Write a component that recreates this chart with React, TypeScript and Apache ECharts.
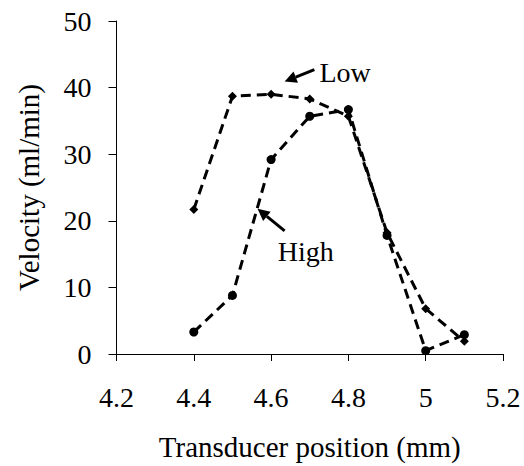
import React, { useEffect, useRef } from "react";
import * as echarts from "echarts";

const positions = [4.4, 4.5, 4.6, 4.7, 4.8, 4.9, 5.0, 5.1];
const lowValues = [21.7, 38.7, 39.0, 38.3, 35.7, 18.2, 6.8, 1.9];
const highValues = [3.3, 8.8, 29.2, 35.7, 36.7, 17.8, 0.5, 2.9];
const xTicks = [4.2, 4.4, 4.6, 4.8, 5.0, 5.2];
const yTicks = [0, 10, 20, 30, 40, 50];

// annotation anchors in data coordinates: [tail, tip, text]
const lowNote = { label: "Low", tail: [4.712, 42.7], tip: [4.635, 40.9], text: [4.725, 42.2] };
const highNote = { label: "High", tail: [4.635, 18.5], tip: [4.565, 21.8], text: [4.617, 15.4] };

const FONT = "Liberation Serif";

export default function App() {
  const ref = useRef<HTMLDivElement>(null);
  useEffect(() => {
    if (!ref.current) return;
    const chart = echarts.init(ref.current, undefined, { renderer: "svg" });
    const toPairs = (vals: number[]) => positions.map((p, i) => [p, vals[i]]);
    chart.setOption({
      animation: false,
      backgroundColor: "#fff",
      textStyle: { fontFamily: FONT },
      grid: { left: 116.5, right: 21, top: 21, bottom: 110 },
      xAxis: {
        type: "value",
        min: xTicks[0],
        max: xTicks[xTicks.length - 1],
        interval: 0.2,
        name: "Transducer position (mm)",
        nameLocation: "middle",
        nameGap: 78,
        nameTextStyle: { fontFamily: FONT, fontSize: 29, color: "#000" },
        axisLine: { lineStyle: { color: "#000", width: 1 } },
        axisTick: { show: true, inside: false, length: 7, lineStyle: { color: "#000" } },
        axisLabel: {
          fontFamily: FONT,
          fontSize: 28,
          color: "#000",
          margin: 29,
          formatter: (v: number) => String(parseFloat(v.toFixed(1))),
        },
        splitLine: { show: false },
      },
      yAxis: {
        type: "value",
        min: yTicks[0],
        max: yTicks[yTicks.length - 1],
        interval: 10,
        name: "Velocity (ml/min)",
        nameLocation: "middle",
        nameGap: 73,
        nameTextStyle: { fontFamily: FONT, fontSize: 29, color: "#000" },
        axisLine: { show: true, lineStyle: { color: "#000", width: 1 } },
        axisTick: { show: true, inside: false, length: 8, lineStyle: { color: "#000" } },
        axisLabel: { fontFamily: FONT, fontSize: 28, color: "#000", margin: 25 },
        splitLine: { show: false },
      },
      series: [
        {
          name: "Low",
          type: "line",
          data: toPairs(lowValues),
          symbol: "diamond",
          symbolSize: 9,
          itemStyle: { color: "#000" },
          lineStyle: { color: "#000", width: 3, type: [10, 6] },
        },
        {
          name: "High",
          type: "line",
          data: toPairs(highValues),
          symbol: "circle",
          symbolSize: 9,
          itemStyle: { color: "#000" },
          lineStyle: { color: "#000", width: 3, type: [10, 6] },
        },
      ],
    });

    const px = (p: number[]) => chart.convertToPixel({ gridIndex: 0 }, p) as number[];
    const arrow = (note: typeof lowNote) => {
      const a = px(note.tail);
      const b = px(note.tip);
      const t = px(note.text);
      const dx = b[0] - a[0];
      const dy = b[1] - a[1];
      const len = Math.sqrt(dx * dx + dy * dy);
      const ux = dx / len;
      const uy = dy / len;
      const headLen = 12;
      const headW = 6;
      const base = [b[0] - ux * headLen, b[1] - uy * headLen];
      return [
        {
          type: "line",
          shape: { x1: a[0], y1: a[1], x2: base[0], y2: base[1] },
          style: { stroke: "#000", lineWidth: 3 },
        },
        {
          type: "polygon",
          shape: {
            points: [
              [b[0], b[1]],
              [base[0] - uy * headW, base[1] + ux * headW],
              [base[0] + uy * headW, base[1] - ux * headW],
            ],
          },
          style: { fill: "#000" },
        },
        {
          type: "text",
          x: t[0],
          y: t[1],
          style: {
            text: note.label,
            fontFamily: FONT,
            fontSize: 28,
            fill: "#000",
            verticalAlign: "middle",
            align: "left",
          },
        },
      ];
    };
    chart.setOption({ graphic: [...arrow(lowNote), ...arrow(highNote)] });

    return () => chart.dispose();
  }, []);
  return (
    <div
      ref={ref}
      style={{ position: "fixed", left: 0, top: 0, width: 524, height: 466 }}
    />
  );
}
